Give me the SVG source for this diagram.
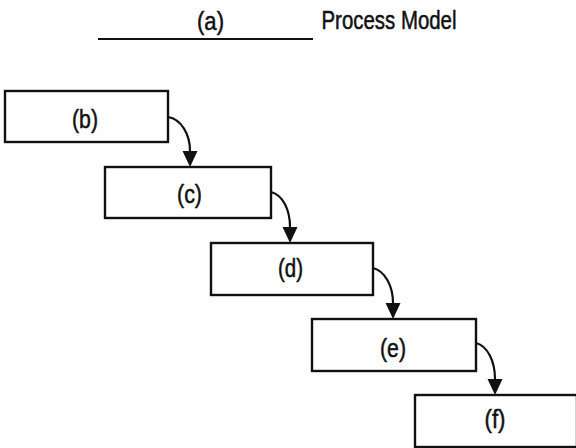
<svg xmlns="http://www.w3.org/2000/svg" width="576" height="448" viewBox="0 0 576 448">
  <style>
    .box { fill: #ffffff; stroke: #111111; stroke-width: 2.4; }
    .lbl { font-family: "Liberation Sans", Arial, sans-serif; font-size: 25px; fill: #111111; stroke: #111111; stroke-width: 0.5; text-anchor: middle; }
    .conn { fill: none; stroke: #111111; stroke-width: 2.2; }
  </style>
  <defs>
    <marker id="arr" markerUnits="userSpaceOnUse" markerWidth="17" markerHeight="17" viewBox="0 0 17 17" refX="0" refY="8.5" orient="auto">
      <path d="M0,1 L16,8.5 L0,16 Z" fill="#111111"/>
    </marker>
  </defs>
  <rect width="576" height="448" fill="#ffffff"/>

  <g id="title">
    <line x1="98" y1="39" x2="313" y2="39" stroke="#111111" stroke-width="2.2"/>
    <text class="lbl" x="210.5" y="29.5" textLength="27" lengthAdjust="spacingAndGlyphs">(a)</text>
    <text class="lbl" x="389" y="28.5" textLength="135" lengthAdjust="spacingAndGlyphs">Process Model</text>
  </g>

  <g id="node-b">
    <rect class="box" x="5" y="91" width="163" height="51"/>
    <text class="lbl" x="85" y="128" textLength="26" lengthAdjust="spacingAndGlyphs">(b)</text>
  </g>
  <g id="node-c">
    <rect class="box" x="105" y="167" width="166" height="51"/>
    <text class="lbl" x="189.5" y="203" textLength="25" lengthAdjust="spacingAndGlyphs">(c)</text>
  </g>
  <g id="node-d">
    <rect class="box" x="211" y="243" width="162" height="52"/>
    <text class="lbl" x="290.5" y="277" textLength="25" lengthAdjust="spacingAndGlyphs">(d)</text>
  </g>
  <g id="node-e">
    <rect class="box" x="312" y="319" width="164" height="52"/>
    <text class="lbl" x="393" y="357" textLength="26" lengthAdjust="spacingAndGlyphs">(e)</text>
  </g>
  <g id="node-f">
    <rect class="box" x="415" y="395" width="162" height="52"/>
    <text class="lbl" x="495" y="428" textLength="21" lengthAdjust="spacingAndGlyphs">(f)</text>
  </g>

  <g id="connectors">
    <path class="conn" d="M168,117 C181,119 190,134 190,151" marker-end="url(#arr)"/>
    <path class="conn" d="M271,192 C283,195 290,210 290,227" marker-end="url(#arr)"/>
    <path class="conn" d="M373,268 C385,271 393,286 393,303" marker-end="url(#arr)"/>
    <path class="conn" d="M476,343 C488,346 495,362 495,379" marker-end="url(#arr)"/>
  </g>
</svg>
